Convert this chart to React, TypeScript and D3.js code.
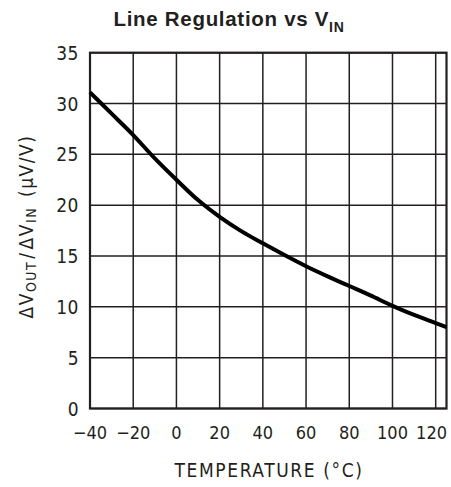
import React from "react";
import * as d3 from "d3";

const temps = [-40, -30, -20, -10, 0, 10, 20, 30, 40, 50, 60, 70, 80, 90, 100, 110, 120, 125];
const lineReg = [31.1, 29.0, 26.9, 24.6, 22.5, 20.5, 18.85, 17.45, 16.25, 15.1, 14.0, 13.0, 12.05, 11.1, 10.1, 9.2, 8.4, 8.0];
const xTicks = [-40, -20, 0, 20, 40, 60, 80, 100, 120];
const yTicks = [0, 5, 10, 15, 20, 25, 30, 35];

const W = 451, H = 487;
const L = 90, R = 446.5, T = 52.7, B = 408.5;
const tickFont = "'DejaVu Sans Condensed', 'Liberation Sans Narrow', 'DejaVu Sans', sans-serif";
const ink = "#231f20";

export default function App() {
  const x = d3.scaleLinear().domain([-40, 125]).range([L, R]);
  const y = d3.scaleLinear().domain([0, 35]).range([B, T]);
  const line = d3.line<number>().x((_, i) => x(temps[i])).y((d) => y(d)).curve(d3.curveMonotoneX);

  return (
    <svg width={W} height={H} style={{ position: "absolute", left: 0, top: 0 }}>
      <rect width={W} height={H} fill="#fff" />
      <text x={229} y={25.7} textAnchor="middle" fontFamily="'Liberation Sans', Arial, sans-serif" fontWeight="bold" fontSize={20.5} letterSpacing={0.7} fill={ink}>
        Line Regulation vs V<tspan fontSize={14} dy={6}>IN</tspan>
      </text>
      {xTicks.map((t) => (
        <line key={"vx" + t} x1={x(t)} x2={x(t)} y1={T} y2={B} stroke={ink} strokeWidth={1.5} />
      ))}
      {yTicks.map((t) => (
        <line key={"hy" + t} x1={L} x2={R} y1={y(t)} y2={y(t)} stroke={ink} strokeWidth={1.5} />
      ))}
      <rect x={L} y={T} width={R - L} height={B - T} fill="none" stroke={ink} strokeWidth={2.2} />
      <defs>
        <clipPath id="clip">
          <rect x={L - 2} y={T} width={R - L + 4} height={B - T} />
        </clipPath>
      </defs>
      <path d={line(lineReg) || ""} fill="none" stroke="#000" strokeWidth={4} clipPath="url(#clip)" />
      {yTicks.map((t) => (
        <text key={"ly" + t} x={79} y={y(t) + 7} textAnchor="end" fontFamily={tickFont} fontSize={19} letterSpacing={0.5} fill={ink}>
          {t}
        </text>
      ))}
      {xTicks.map((t, i) => {
        const last = i === xTicks.length - 1;
        return (
          <text key={"lx" + t} x={last ? 447 : x(t)} y={438.5} textAnchor={last ? "end" : "middle"} fontFamily={tickFont} fontSize={18} fill={ink}>
            {t < 0 ? "\u2212" + Math.abs(t) : t}
          </text>
        );
      })}
      <text x={269} y={477} textAnchor="middle" fontFamily={tickFont} fontSize={19} letterSpacing={1.6} fill={ink}>
        TEMPERATURE (°C)
      </text>
      <text transform="translate(33,226.5) rotate(-90)" textAnchor="middle" fontFamily={tickFont} fontSize={19} letterSpacing={1.5} fill={ink}>
        ΔV<tspan fontSize={14} dy={3}>OUT</tspan><tspan dy={-3} dx={2}>/</tspan><tspan dx={2}>ΔV</tspan><tspan fontSize={14} dy={3}>IN</tspan><tspan dy={-3} dx={10}>(μV/V)</tspan>
      </text>
    </svg>
  );
}
